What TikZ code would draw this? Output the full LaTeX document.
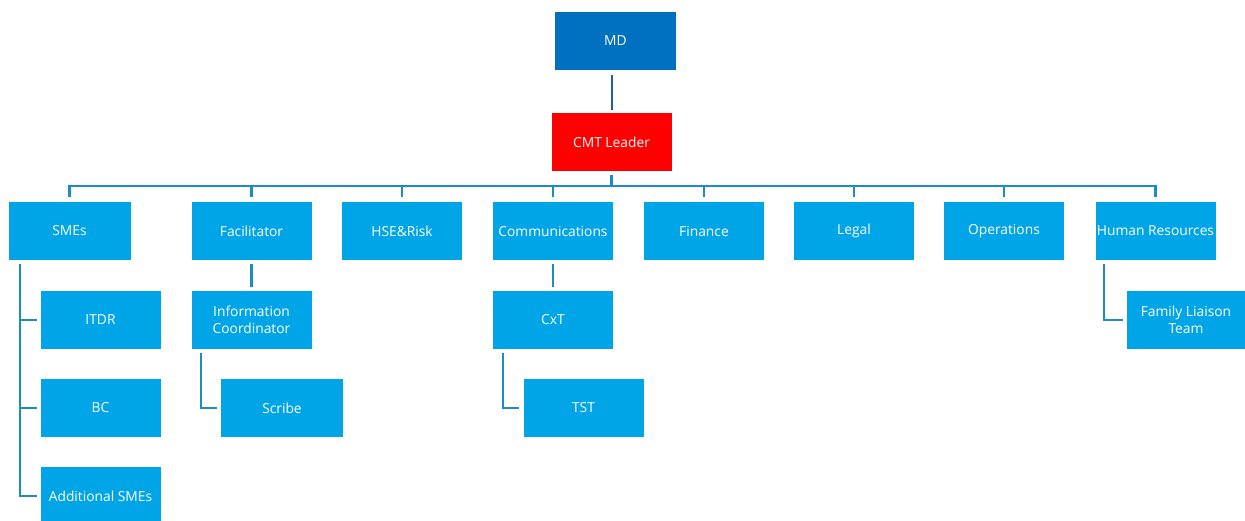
\documentclass[tikz,border=0pt]{standalone}
\usepackage{fontspec}
\setmainfont{Open Sans}
\definecolor{boxblue}{HTML}{00A5E8}
\definecolor{mdblue}{HTML}{0070C0}
\definecolor{cmtred}{HTML}{FF0000}
\definecolor{linkblue}{HTML}{1E8CC4}
\definecolor{topline}{HTML}{1F5F9A}
\begin{document}
\begin{tikzpicture}[x=1pt,y=-1pt,
  box/.style={fill=boxblue, draw=none, text=white, minimum width=120pt, minimum height=58pt,
    inner sep=1pt, align=center, font=\fontsize{13.8}{16.5}\selectfont},
  conn/.style={draw=linkblue, line width=2.8pt},
  thinconn/.style={draw=topline, line width=2pt}]
\useasboundingbox (0,0) rectangle (1245,520);
% top
\node[box, fill=mdblue, minimum width=121pt] (md) at (615.5,41) {MD};
\node[box, fill=cmtred] (cmt) at (611.5,142) {CMT Leader};
% row
\node[box, minimum width=122pt] (smes) at (69.5,231) {SMEs};
\node[box] (fac) at (251.5,231) {Facilitator};
\node[box] (hse) at (402,231) {HSE\&Risk};
\node[box] (com) at (553,231) {Communications};
\node[box] (fin) at (704,231) {Finance};
\node[box] (leg) at (854,231) {Legal};
\node[box] (ops) at (1004,231) {Operations};
\node[box] (hr) at (1155.5,231) {Human Resources};
% children
\node[box] (itdr) at (100.5,320) {ITDR};
\node[box] (bc) at (100.5,408) {BC};
\node[box] (add) at (100.5,496) {Additional SMEs};
\node[box] (info) at (251.5,320) {Information\\Coordinator};
\node[box, minimum width=122pt] (scribe) at (282,408) {Scribe};
\node[box] (cxt) at (553,320) {CxT};
\node[box] (tst) at (583.5,408) {TST};
\node[box, minimum width=118pt] (fam) at (1186,320) {Family Liaison\\Team};
% connectors top
\draw[thinconn] ([yshift=-5pt]cmt.north |- md.south) -- ([yshift=3pt]cmt.north);
\coordinate (busy) at (0,186);
\draw[conn] ([yshift=-4pt]cmt.south) -- (cmt.south |- busy);
\draw[conn] ([yshift=5pt]smes.north) |- (hr.north |- busy) -- ([yshift=5pt]hr.north);
\foreach \n in {fac,hse,com,fin,leg,ops}{
  \draw[conn] ([yshift=5pt]\n.north) -- (\n.north |- busy);
}
% SMEs children
\coordinate (smx) at (20,0);
\draw[conn] (smx |- smes.south) ++(0,4) |- ([xshift=-3pt]add.west);
\draw[conn] (smx |- itdr.west) -- ([xshift=-3pt]itdr.west);
\draw[conn] (smx |- bc.west) -- ([xshift=-3pt]bc.west);
% Facilitator
\draw[conn] ([yshift=-4pt]fac.south) -- ([yshift=4pt]info.north);
\coordinate (infx) at (201,0);
\draw[conn] (infx |- info.south) ++(0,4) |- ([xshift=-4pt]scribe.west);
% Communications
\draw[conn] ([yshift=-4pt]com.south) -- ([yshift=4pt]cxt.north);
\coordinate (cxx) at (503,0);
\draw[conn] (cxx |- cxt.south) ++(0,4) |- ([xshift=-4pt]tst.west);
% HR
\coordinate (hrx) at (1104,0);
\draw[conn] (hrx |- hr.south) ++(0,4) |- ([xshift=-4pt]fam.west);
\end{tikzpicture}
\end{document}
